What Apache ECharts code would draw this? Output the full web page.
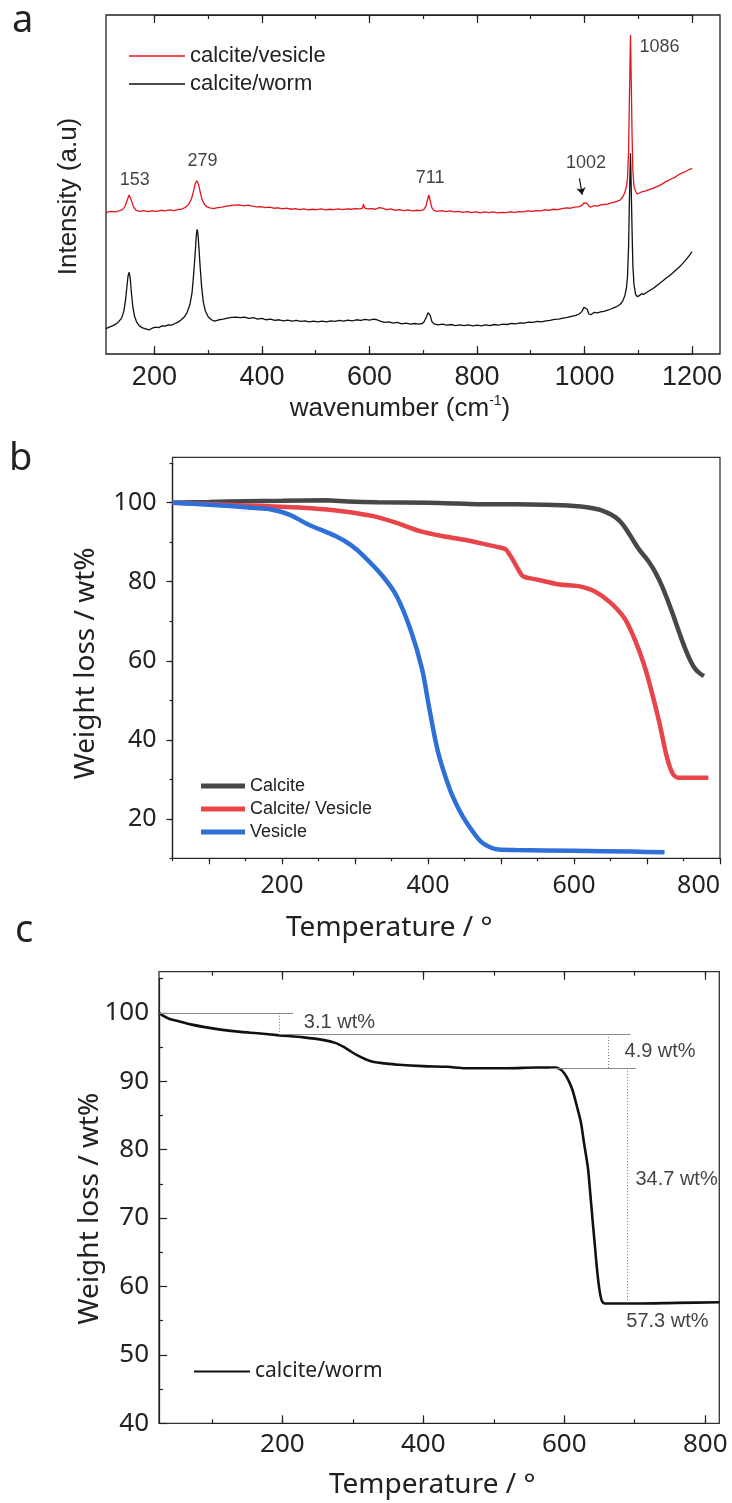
<!DOCTYPE html>
<html><head><meta charset="utf-8">
<script src="https://cdn.jsdelivr.net/npm/echarts@6/dist/echarts.min.js"></script>
<style>html,body{margin:0;padding:0;background:#fff}#c{width:732px;height:1503px}</style>
</head><body><div id="c"></div>
<script>
// ---------- Panel a : Raman spectra ----------
const ramanVesicle = [[110,41.7],[118,42.1],[126,41.9],[134,42.2],[140,42.5],[145,43.4],[149,45.2],[153,46.9],[157,45.4],[161,43.4],[166,42.4],[172,42.1],[180,42.3],[188,42.0],[196,42.2],[204,42.1],[212,42.4],[220,42.2],[228,42.5],[236,42.3],[244,42.6],[252,42.8],[258,43.3],[264,44.2],[269,45.8],[273,48.2],[276,50.3],[279,51.1],[282,50.1],[285,48],[288,45.9],[292,44.4],[297,43.5],[303,43.1],[310,42.9],[318,43.2],[326,43.3],[334,43.6],[342,43.8],[350,43.9],[358,44.0],[366,43.7],[374,43.9],[382,43.6],[390,43.4],[398,43.5],[406,43.2],[414,43.3],[422,43.0],[430,43.1],[438,42.8],[446,43.0],[454,42.7],[462,42.9],[470,42.6],[478,42.8],[486,42.5],[494,42.7],[502,42.6],[510,42.8],[518,42.5],[526,42.7],[534,42.6],[542,42.8],[550,42.6],[558,42.8],[566,42.7],[574,42.9],[582,42.8],[587,43.0],[589,44.2],[591,43.1],[596,42.8],[604,42.9],[612,42.7],[618,43.2],[621,43.6],[624,43.0],[632,42.6],[640,42.8],[648,42.4],[656,42.6],[664,42.3],[672,42.5],[680,42.2],[688,42.4],[695,42.3],[701,42.6],[705,43.6],[708,45.5],[710.5,46.9],[713,45.2],[716,43.2],[720,42.4],[726,42.1],[734,42.3],[742,42.0],[750,42.2],[758,41.9],[766,42.1],[774,41.8],[782,42.0],[790,41.7],[798,41.9],[806,41.6],[814,41.9],[822,41.7],[830,41.9],[838,41.6],[846,41.8],[854,41.7],[862,41.9],[870,41.8],[878,42.0],[886,41.9],[894,42.2],[902,42.1],[910,42.3],[918,42.2],[926,42.5],[934,42.4],[942,42.7],[950,42.6],[958,42.9],[966,43.1],[974,43.0],[982,43.3],[990,43.5],[995,43.8],[999,44.6],[1002,45.1],[1005,44.4],[1008,43.6],[1012,43.3],[1018,43.8],[1024,43.6],[1030,44.0],[1036,44.1],[1042,44.2],[1048,44.5],[1054,44.7],[1060,45.0],[1066,45.4],[1071,46.3],[1075,47.6],[1078,49.4],[1080,52],[1082,60],[1083.5,75],[1085.5,94.1],[1087,80],[1088.5,64],[1090,54],[1092,49.5],[1095,48.0],[1098,47.2],[1102,47.5],[1108,47.9],[1114,48.1],[1120,48.5],[1126,48.8],[1132,49.2],[1138,49.6],[1144,50.1],[1150,50.7],[1156,51.2],[1162,51.7],[1168,52.1],[1174,52.8],[1180,53.3],[1186,53.7],[1192,54.2],[1198,54.6],[1200,54.8]];
const ramanWorm = [[110,7.5],[116,7.9],[122,8.3],[128,8.8],[134,9.6],[139,10.6],[143,12.5],[146,15.5],[149,20],[151,23],[153,24.1],[155,22.5],[157,18.5],[160,13.8],[163,11.2],[167,9.4],[172,8.3],[178,7.7],[184,7.4],[190,7.1],[196,7.6],[202,7.9],[208,7.8],[214,8.3],[220,8.2],[226,8.6],[232,8.5],[238,9.0],[244,9.4],[250,10.1],[256,11.0],[261,12.3],[266,14.6],[270,18],[273,23.5],[276,30],[278,35],[279.5,36.8],[281,35.5],[283,31],[285,26],[288,19.5],[291,15.3],[295,12.6],[300,11.0],[306,10.1],[312,9.7],[320,10.1],[328,10.3],[336,10.6],[344,10.8],[352,10.9],[360,10.7],[368,10.9],[376,10.5],[384,10.7],[392,10.3],[400,10.5],[408,10.1],[416,10.3],[424,9.9],[432,10.1],[440,9.8],[448,10.0],[456,9.7],[464,9.9],[472,9.6],[480,9.8],[488,9.5],[496,9.7],[504,9.5],[512,9.7],[520,9.5],[528,9.8],[536,9.6],[544,9.9],[552,9.7],[560,10.0],[568,9.8],[576,10.1],[584,9.9],[592,10.2],[600,10.0],[608,10.3],[614,10.1],[620,9.7],[628,9.3],[636,9.5],[644,9.1],[652,9.3],[660,8.9],[668,9.1],[676,8.8],[684,9.0],[692,8.8],[698,9.0],[702,9.6],[706,11],[709,12.2],[711,12.7],[713,11.4],[716,9.6],[720,8.9],[728,8.6],[736,8.8],[744,8.5],[752,8.7],[760,8.4],[768,8.6],[776,8.4],[784,8.6],[792,8.3],[800,8.5],[808,8.3],[816,8.6],[824,8.4],[832,8.7],[840,8.5],[848,8.8],[856,8.7],[864,9.0],[872,8.9],[880,9.2],[888,9.1],[896,9.4],[904,9.3],[912,9.6],[920,9.5],[928,9.8],[936,9.9],[944,10.2],[952,10.3],[960,10.6],[968,10.8],[976,11.1],[984,11.4],[990,11.8],[995,12.5],[999,13.8],[1002,14.2],[1005,13.2],[1008,11.8],[1012,11.6],[1018,12.3],[1024,12.1],[1030,12.4],[1036,12.6],[1042,12.9],[1048,13.2],[1054,13.6],[1060,14.0],[1066,14.6],[1071,15.6],[1075,17.2],[1078,19.5],[1080,23],[1082,32],[1083.5,45],[1085.5,59.2],[1087,48],[1088.5,36],[1090,26],[1092,20.5],[1095,17.6],[1098,16.9],[1102,17.2],[1106,17.8],[1110,17.6],[1116,18.2],[1122,18.8],[1128,19.4],[1134,20.1],[1140,20.9],[1146,21.6],[1152,22.4],[1158,23.1],[1164,23.9],[1170,24.8],[1176,25.6],[1182,26.6],[1188,27.7],[1194,28.9],[1200,30.2]];
const peakText = ['153','279','711','1002','1086'];
const peakX = [163.5, 289.7, 713, 1002.7, 1139.5];
const peakY = [51.3, 56.9, 51.9, 56.4, 90.5];
const arrow1002 = [[990.6, 51.8], [995.6, 47.0]];
const aXLabels = [200,400,600,800,1000,1200];

// ---------- Panel b : TGA ----------
const tgaCalcite = [[50,100],[100,100.2],[150,100.4],[200,100.5],[260,100.6],[290,100.3],[330,100.1],[400,100],[440,99.8],[470,99.6],[520,99.6],[560,99.5],[600,99.2],[620,98.8],[634,98.3],[643,97.7],[650,97.1],[657,96.3],[663,95.3],[670,93.7],[677,91.7],[689,88.2],[702,85.2],[712,82.2],[721,78.7],[733,73],[746,66.2],[752,63.2],[759,60.2],[765,58.2],[771,57],[778,56.1]];
const tgaCalciteVesicle = [[50,100],[100,99.7],[150,99.3],[197,99],[240,98.6],[280,97.9],[325,96.6],[357,94.9],[389,92.8],[421,91.5],[453,90.5],[485,89.2],[500,88.6],[507,88.1],[516,85.6],[524,83],[530,81.4],[548,80.6],[580,79.3],[606,78.9],[628,77.6],[650,74.7],[670,70.5],[685,64.6],[698,57.8],[708,51],[717,44.3],[727,35.8],[735,31.5],[743,30.4],[784,30.4]];
const tgaVesicle = [[50,100],[100,99.5],[134,99.1],[160,98.7],[185,98.3],[210,97],[236,94.5],[274,91.5],[295,89.2],[312,86.5],[338,81.4],[357,76.4],[376,67.9],[392,57.8],[402,47.7],[414,36.7],[430,27.4],[442,22.5],[453,19],[472,14.3],[485,12.8],[497,12.2],[520,12.1],[600,11.9],[680,11.7],[724,11.5]];
const bXLabels = [200,400,600,800];
const bYLabels = [20,40,60,80,100];

// ---------- Panel c : TGA calcite/worm ----------
const tgaWorm = [[25,100],[30,99.6],[40,99.1],[55,98.7],[70,98.3],[90,97.9],[115,97.5],[141,97.2],[165,97.0],[196,96.7],[230,96.4],[259,96.0],[275,95.6],[287,95.0],[298,94.3],[306,93.8],[318,93.2],[330,92.8],[345,92.6],[365,92.4],[400,92.2],[434,92.1],[460,91.9],[481,91.9],[520,91.9],[560,92.0],[587,92.0],[595,91.7],[601,91.0],[607,89.9],[612,88.6],[618,86.3],[623.6,84],[628,81],[633.5,77.4],[637,73.5],[640.1,69.8],[643,66.5],[646.8,62.2],[650,59.5],[653.4,57.9],[658,57.5],[700,57.5],[760,57.6],[820,57.7]];
const cLevels = [[[25,100],[215,100]], [[195,96.9],[694,96.9]], [[580,91.9],[702,91.9]]];
const cDrops = [[[196,100],[196,96.9]], [[663,96.9],[663,91.9]], [[690,91.9],[690,57.6]]];
const stepText = ['3.1 wt%','4.9 wt%','34.7 wt%','57.3 wt%'];
const stepX = [230.5, 685.5, 701, 688];
const stepY = [98.6, 94.4, 75.6, 54.9];
const cXLabels = [200,400,600,800];
const cYLabels = [40,50,60,70,80,90,100];

// tick sets: [first, last, step]
const aXMajorTicks = [200, 1200, 200], aXAllTicks = [200, 1200, 100];
const bXMajorTicks = [100, 800, 100], bXMinorTicks = [50, 800, 50];
const bYMajorTicks = [20, 100, 20], bYMinorTicks = [10, 110, 10];
const cXMajorTicks = [200, 800, 200], cXAllTicks = [100, 800, 100];
const cYMajorTicks = [40, 100, 10], cYMinorTicks = [45, 105, 10];

const INK = '#222';
const ARIAL = 'Liberation Sans';
const NOTO = 'Noto Sans';
const plain = v => String(v);

const PA = {left: 106, top: 15, width: 614, height: 339, xmin: 110, xmax: 1252, ymin: 0, ymax: 100};
const PB = {left: 172.5, top: 457.3, width: 547.5, height: 401, xmin: 50, xmax: 800, ymin: 10, ymax: 111.5};
const PC = {left: 159, top: 971.7, width: 560.3, height: 451.6, xmin: 25, xmax: 820, ymin: 40, ymax: 106};

function mainGrid(p, border) {
  return {left: p.left, top: p.top, width: p.width, height: p.height, show: true, borderColor: border, borderWidth: 1.3};
}
function mainAxis(gi, min, max, pos, labels, lab, extra) {
  return Object.assign({
    type: 'value', gridIndex: gi, min: min, max: max, position: pos,
    axisLine: {show: false, onZero: false}, axisTick: {show: false},
    axisLabel: labels ? Object.assign({show: true, customValues: labels, color: INK, formatter: plain}, lab) : {show: false},
    splitLine: {show: false}, minorTick: {show: false}, nameMoveOverlap: false
  }, extra || {});
}

const grids = [mainGrid(PA, INK), mainGrid(PB, '#333'), mainGrid(PC, '#333')];
const xAxes = [
  mainAxis(0, PA.xmin, PA.xmax, 'bottom', aXLabels, {fontFamily: ARIAL, fontSize: 27, margin: 10},
    {name: 'wavenumber (cm{sup|-1})', nameLocation: 'middle', nameGap: 40,
     nameTextStyle: {fontFamily: ARIAL, fontSize: 26, color: INK, padding: [0, 26, 0, 0],
       rich: {sup: {fontFamily: ARIAL, fontSize: 14, color: INK, verticalAlign: 'top', lineHeight: 30}}}}),
  mainAxis(1, PB.xmin, PB.xmax, 'bottom', bXLabels, {fontFamily: NOTO, fontSize: 25, margin: 15, alignMaxLabel: 'right'},
    {name: 'Temperature / °', nameLocation: 'middle', nameGap: 56,
     nameTextStyle: {fontFamily: NOTO, fontSize: 28, color: INK, padding: [0, 114, 0, 0]}}),
  mainAxis(2, PC.xmin, PC.xmax, 'bottom', cXLabels, {fontFamily: NOTO, fontSize: 26, margin: 8},
    {name: 'Temperature / °', nameLocation: 'middle', nameGap: 48,
     nameTextStyle: {fontFamily: NOTO, fontSize: 28, color: INK, padding: [0, 14, 0, 0]}})
];
const yAxes = [
  mainAxis(0, PA.ymin, PA.ymax, 'left', null, null,
    {name: 'Intensity (a.u)', nameLocation: 'middle', nameGap: 24,
     nameTextStyle: {fontFamily: ARIAL, fontSize: 26, color: INK, padding: [0, 24, 0, 0]}}),
  mainAxis(1, PB.ymin, PB.ymax, 'left', bYLabels, {fontFamily: NOTO, fontSize: 25, margin: 16},
    {name: 'Weight loss / wt%', nameLocation: 'middle', nameGap: 72,
     nameTextStyle: {fontFamily: NOTO, fontSize: 28, color: INK, padding: [0, 11, 0, 0]}}),
  mainAxis(2, PC.ymin, PC.ymax, 'left', cYLabels, {fontFamily: NOTO, fontSize: 26, margin: 10},
    {name: 'Weight loss / wt%', nameLocation: 'middle', nameGap: 55,
     nameTextStyle: {fontFamily: NOTO, fontSize: 28, color: INK, padding: [0, 22, 0, 0]}})
];

const tickLine = {color: INK, width: 1.2};
function dummy(gi) { return {type: 'value', gridIndex: gi, show: false, min: 0, max: 1}; }
// Tick rows: a transparent grid sharing the panel's scale, one axis per grid, whose axis starts on the first tick.
function addXTicks(p, spec, len, inside, side) {
  const sx = p.xmax - p.xmin, gi = grids.length;
  grids.push({left: p.left + (spec[0] - p.xmin) / sx * p.width, width: (spec[1] - spec[0]) / sx * p.width,
              top: p.top, height: p.height, show: false});
  xAxes.push({type: 'value', gridIndex: gi, position: side, min: spec[0], max: spec[1], interval: spec[2],
    axisLine: {show: true, onZero: false, lineStyle: tickLine},
    axisTick: {show: true, inside: inside, length: len, lineStyle: tickLine},
    axisLabel: {show: false}, splitLine: {show: false}});
  yAxes.push(dummy(gi));
}
function addYTicks(p, spec, len, inside) {
  const sy = p.ymax - p.ymin, gi = grids.length;
  grids.push({left: p.left, width: p.width, top: p.top + (p.ymax - spec[1]) / sy * p.height,
              height: (spec[1] - spec[0]) / sy * p.height, show: false});
  yAxes.push({type: 'value', gridIndex: gi, position: 'left', min: spec[0], max: spec[1], interval: spec[2],
    axisLine: {show: true, onZero: false, lineStyle: tickLine},
    axisTick: {show: true, inside: inside, length: len, lineStyle: tickLine},
    axisLabel: {show: false}, splitLine: {show: false}});
  xAxes.push(dummy(gi));
}
['bottom', 'top'].forEach(s => { addXTicks(PA, aXAllTicks, 4, true, s); addXTicks(PA, aXMajorTicks, 8, true, s); });
addXTicks(PB, bXMinorTicks, 3, false, 'bottom');
addXTicks(PB, bXMajorTicks, 6, false, 'bottom');
addYTicks(PB, bYMinorTicks, 3, false);
addYTicks(PB, bYMajorTicks, 6, false);
['bottom', 'top'].forEach(s => { addXTicks(PC, cXAllTicks, 4, true, s); addXTicks(PC, cXMajorTicks, 8, true, s); });
addYTicks(PC, cYMajorTicks, 8, true);
addYTicks(PC, cYMinorTicks, 4, true);

function seg(pairs, style) {
  return pairs.map(p => [{coord: p[0], lineStyle: style}, {coord: p[1]}]);
}

const option = {
  animation: false,
  backgroundColor: '#fff',
  grid: grids,
  xAxis: xAxes,
  yAxis: yAxes,
  legend: [
    {data: ['calcite/vesicle', 'calcite/worm'], orient: 'vertical', left: 124, top: 40,
     icon: 'rect', itemWidth: 56, itemHeight: 1.5, itemGap: 6, selectedMode: false,
     textStyle: {fontFamily: ARIAL, fontSize: 22, color: INK}},
    {data: ['Calcite', 'Calcite/ Vesicle', 'Vesicle'], orient: 'vertical', left: 196, top: 772,
     icon: 'rect', itemWidth: 44, itemHeight: 5, itemGap: 5, selectedMode: false,
     textStyle: {fontFamily: ARIAL, fontSize: 18, color: INK}},
    {data: ['calcite/worm '], orient: 'vertical', left: 189, top: 1356,
     icon: 'rect', itemWidth: 56, itemHeight: 2, itemGap: 6, selectedMode: false,
     textStyle: {fontFamily: NOTO, fontSize: 21, color: INK}}
  ],
  series: [
    {name: 'calcite/vesicle', type: 'line', xAxisIndex: 0, yAxisIndex: 0, data: ramanVesicle,
     symbol: 'none', color: '#e3151d', lineStyle: {width: 1.3, color: '#e3151d'}},
    {name: 'calcite/worm', type: 'line', xAxisIndex: 0, yAxisIndex: 0, data: ramanWorm,
     symbol: 'none', color: '#111', lineStyle: {width: 1.3, color: '#111'}},
    {type: 'scatter', xAxisIndex: 0, yAxisIndex: 0, symbolSize: 0, silent: true,
     data: peakX.map((x, i) => [x, peakY[i], peakText[i]]),
     label: {show: true, position: [0, 0], align: 'center', verticalAlign: 'middle',
       formatter: p => p.value[2], fontFamily: ARIAL, fontSize: 18, color: '#111'},
     markLine: {silent: true, symbol: ['none', 'arrow'], symbolSize: 7, label: {show: false},
       lineStyle: {color: '#111', width: 1.2, type: 'solid'},
       data: [[{coord: arrow1002[0]}, {coord: arrow1002[1]}]]}},
    {name: 'Calcite', type: 'line', xAxisIndex: 1, yAxisIndex: 1, data: tgaCalcite, symbol: 'none',
     smooth: 0.3, color: '#474747', lineStyle: {width: 4.5, color: '#474747'}},
    {name: 'Calcite/ Vesicle', type: 'line', xAxisIndex: 1, yAxisIndex: 1, data: tgaCalciteVesicle, symbol: 'none',
     smooth: 0.3, color: '#e8454a', lineStyle: {width: 4.5, color: '#e8454a'}},
    {name: 'Vesicle', type: 'line', xAxisIndex: 1, yAxisIndex: 1, data: tgaVesicle, symbol: 'none',
     smooth: 0.3, color: '#2f6fd8', lineStyle: {width: 4.5, color: '#2f6fd8'}},
    {name: 'calcite/worm ', type: 'line', xAxisIndex: 2, yAxisIndex: 2, data: tgaWorm, symbol: 'none',
     smooth: 0.3, color: '#111', lineStyle: {width: 2.6, color: '#111'},
     markLine: {silent: true, symbol: 'none', label: {show: false},
       data: seg(cLevels, {color: '#888', width: 1, type: 'solid'})
         .concat(seg(cDrops, {color: '#777', width: 1, type: [1, 2]}))}},
    {type: 'scatter', xAxisIndex: 2, yAxisIndex: 2, symbolSize: 0, silent: true,
     data: stepX.map((x, i) => [x, stepY[i], stepText[i]]),
     label: {show: true, position: [0, 0], align: 'left', verticalAlign: 'middle',
       formatter: p => p.value[2], fontFamily: ARIAL, fontSize: 20, color: '#111'}}
  ],
  graphic: [
    {type: 'text', left: 12, top: 2, style: {text: 'a', fontFamily: NOTO, fontSize: 38, fill: INK}},
    {type: 'text', left: 9, top: 440, style: {text: 'b', fontFamily: NOTO, fontSize: 38, fill: INK}},
    {type: 'text', left: 15, top: 912, style: {text: 'c', fontFamily: NOTO, fontSize: 38, fill: INK}}
  ]
};
const chart = echarts.init(document.getElementById('c'), null, {renderer: 'canvas'});
chart.setOption(option);
</script></body></html>
